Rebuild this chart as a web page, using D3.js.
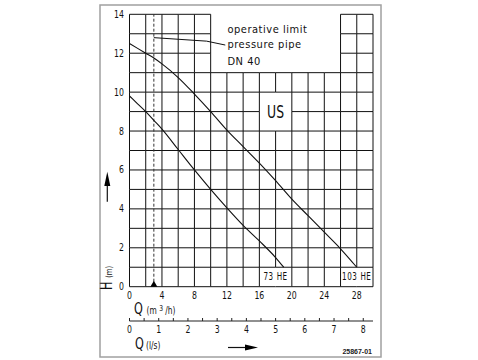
<!DOCTYPE html>
<html><head><meta charset="utf-8">
<script src="https://cdn.jsdelivr.net/npm/d3@7"></script>
<style>body{margin:0;background:#fff}svg{display:block}</style>
</head><body><svg id="c" width="478" height="360"></svg>
<script>
// ---- data ----
const flowTicks = [0,4,8,12,16,20,24,28];          // Q (m3/h)
const headTicks = [0,2,4,6,8,10,12,14];            // H (m)
const lsTicks = [0,1,2,3,4,5,6,7,8];               // Q (l/s)
const q73 = [0,1,2,3,4,6,8,10,12,14,16,18,19];
const h73 = [9.8,9.4,9.0,8.55,8.1,7.05,6.0,5.0,4.05,3.15,2.35,1.5,1.0];
const q103 = [0,2,3,4,6,8,10,12,14,16,18,20,22,24,26,28];
const h103 = [12.5,12.0,11.75,11.45,10.75,9.9,9.0,8.05,7.2,6.35,5.45,4.5,3.65,2.8,1.95,1.0];
const limitQ = 3;
const leaderQ = [3,9.5,11.8];
const leaderH = [12.8,12.62,12.42];
const noteLines = ["operative limit","pressure pipe","DN 40"];

const svg = d3.select("#c");
const x = d3.scaleLinear([0,30],[129.5,373]);
const y = d3.scaleLinear([0,14],[286.7,14.3]);
const xl = d3.scaleLinear([0,8],[129.5,129.5+8*3.6*(243.5/30)]);
const FONT = "'DejaVu Sans', sans-serif";

// frame
svg.append("rect").attr("x",100).attr("y",5).attr("width",281).attr("height",352)
  .attr("fill","none").attr("stroke","#a0a0a0").attr("stroke-width",1.5);

// grid with blank boxes
const boxes = [
  {x0:10,x1:26,y0:11,y1:14,openTop:true},
  {x0:16,x1:20,y0:8,y1:10},
  {x0:16,x1:20,y0:0,y1:1},
  {x0:26,x1:30,y0:0,y1:1}
];
const g = svg.append("g").attr("stroke","#111").attr("stroke-width",1);
for (let v=0; v<=30; v+=2) {
  for (let j=0;j<14;j++){
    const skip = boxes.some(b=>v>b.x0&&v<b.x1&&j>=b.y0&&j+1<=b.y1);
    if(!skip) g.append("line").attr("x1",x(v)).attr("x2",x(v)).attr("y1",y(j)).attr("y2",y(j+1));
  }
}
for (let h=0; h<=14; h++) {
  for (let i=0;i<30;i+=2){
    const skip = boxes.some(b=>i>=b.x0&&i+2<=b.x1&&((h>b.y0&&h<b.y1)||(b.openTop&&h===b.y1)));
    if(!skip) g.append("line").attr("x1",x(i)).attr("x2",x(i+2)).attr("y1",y(h)).attr("y2",y(h));
  }
}

// dashed operating limit
svg.append("line").attr("x1",x(limitQ)).attr("x2",x(limitQ)).attr("y1",y(0)).attr("y2",y(14))
  .attr("stroke","#333").attr("stroke-dasharray","3,2").attr("stroke-width",1);
svg.append("path").attr("d",`M${x(limitQ)-3.5},${y(0)} L${x(limitQ)+3.5},${y(0)} L${x(limitQ)},${y(0)-6}Z`).attr("fill","#000");

// leader
svg.append("path").attr("d",d3.line()(leaderQ.map((q,i)=>[x(q),y(leaderH[i])])))
  .attr("fill","none").attr("stroke","#111").attr("stroke-width",1);

// curves
const line = d3.line().x(d=>x(d[0])).y(d=>y(d[1])).curve(d3.curveMonotoneX);
[[q73,h73],[q103,h103]].forEach(([q,h])=>{
  svg.append("path").attr("d",line(q.map((v,i)=>[v,h[i]]))).attr("fill","none")
    .attr("stroke","#111").attr("stroke-width",1.1);
});

function txt(px,py,s,size,sx,anchor){
  const t = svg.append("text").attr("transform",`translate(${px},${py}) scale(${sx},1)`)
    .attr("font-family",FONT).attr("font-size",size).attr("fill","#111")
    .attr("text-anchor",anchor||"start").text(s);
  return t;
}
// axis tick labels
headTicks.forEach(t=>txt(124,y(t)+3.5,t,10,0.78,"end"));
flowTicks.forEach(t=>txt(x(t),299,t,10,0.78,"middle"));

// note
noteLines.forEach((s,i)=>txt(x(12.06),[33,48,64.5][i],s,11,0.9,"start").attr("letter-spacing",0.6));
txt(x(18),y(9)+6,"US",17,0.73,"middle");
txt(x(18),y(0.5)+3.5,"73 HE",10,0.72,"middle").attr("letter-spacing",0.8);
txt(x(28),y(0.5)+3.5,"103 HE",10,0.72,"middle").attr("letter-spacing",0.8);

// l/s axis
const ly = 321;
svg.append("line").attr("x1",x(0)).attr("x2",x(30)).attr("y1",ly).attr("y2",ly).attr("stroke","#222").attr("stroke-width",1.2);
d3.range(0,8.5,0.5).forEach(v=>svg.append("line").attr("x1",xl(v)).attr("x2",xl(v)).attr("y1",ly).attr("y2",ly-3).attr("stroke","#222"));
lsTicks.forEach(t=>txt(xl(t),333,t,10,0.78,"middle"));

// axis titles
const q1 = svg.append("text").attr("font-family",FONT).attr("fill","#111").attr("transform","translate(134,313.5) scale(0.75,1)");
q1.append("tspan").attr("font-size",15).text("Q");
q1.append("tspan").attr("font-size",10).attr("dx",5).text("(m ");
q1.append("tspan").attr("font-size",8).attr("dy",-3).text("3");
q1.append("tspan").attr("font-size",10).attr("dy",3).attr("dx",3).text("/h)");
const q2 = svg.append("text").attr("font-family",FONT).attr("fill","#111").attr("transform","translate(135,348.5) scale(0.75,1)");
q2.append("tspan").attr("font-size",15).text("Q");
q2.append("tspan").attr("font-size",10).attr("dx",3).text("(l/s)");
const hT = svg.append("text").attr("font-family",FONT).attr("fill","#111").attr("transform","translate(112,290) rotate(-90) scale(0.75,1)");
hT.append("tspan").attr("font-size",15).text("H");
hT.append("tspan").attr("font-size",9).attr("dx",5).text("(m)");

// arrows
svg.append("line").attr("x1",107.3).attr("x2",107.3).attr("y1",201.7).attr("y2",183).attr("stroke","#111").attr("stroke-width",1.2);
svg.append("path").attr("d","M107.3,171.7 L104.3,186 L110.3,186Z").attr("fill","#000");
svg.append("line").attr("x1",228).attr("x2",248).attr("y1",347.5).attr("y2",347.5).attr("stroke","#111").attr("stroke-width",1.2);
svg.append("path").attr("d","M258,347.5 L245,344.5 L245,350.5Z").attr("fill","#000");

// id
svg.append("text").attr("x",372).attr("y",353.5).attr("text-anchor","end").attr("font-family","'Liberation Sans', sans-serif")
  .attr("font-size",7).attr("font-weight","bold").attr("fill","#222").text("25867-01");
</script></body></html>
